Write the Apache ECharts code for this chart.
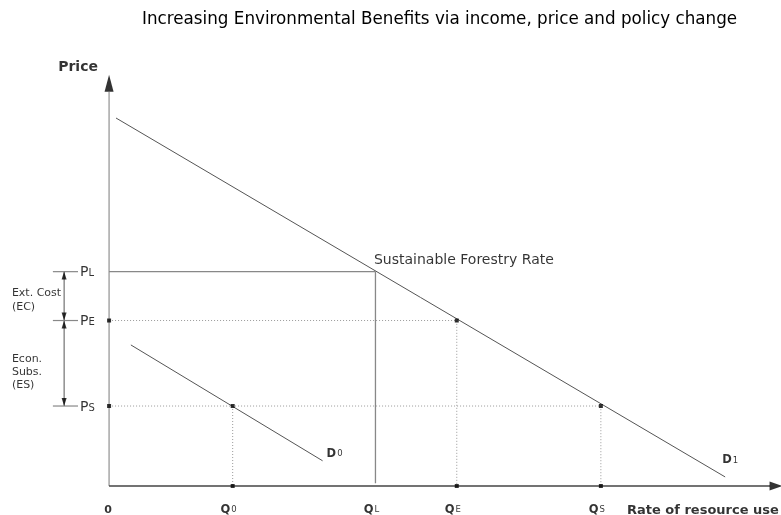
<!DOCTYPE html>
<html><head><meta charset="utf-8">
<script src="https://cdn.jsdelivr.net/npm/echarts@6/dist/echarts.min.js"></script>
<style>html,body{margin:0;padding:0;background:#fff}#c{width:781px;height:515px}</style>
</head><body><div id="c"></div>
<script>
// ---- data (axis units: quantity / price) ----
const qSubs = ['0', 'L', 'E', 'S'];
const qValues = [18.7, 40.3, 52.6, 74.4];
const pSubs = ['L', 'E', 'S'];
const pValues = [54.4, 42.0, 20.3];
const d1Line = [[1.05, 93.4], [93.2, 2.3]];
const d0Line = [[3.3, 35.8], [32.3, 6.4]];
const titleText = 'Increasing Environmental Benefits via income, price and policy change';
const yName = 'Price';
const xName = 'Rate of resource use';
const sustainText = 'Sustainable Forestry Rate';
const ecText = ['Ext. Cost', '(EC)'];
const esText = ['Econ.', 'Subs.', '(ES)'];

const [Q0, QL, QE, QS] = qValues;
const [PL, PE, PS] = pValues;

// ---- layout (axis units) ----
const X_MIN = -16.5, X_MAX = 101.65, Y_MIN = -7.36, Y_MAX = 123.35;
const AX_END_X = 100, AX_END_Y = 100;
const TICK_L = -8.5, TICK_R = -4.7, DIM_X = -6.8, LEFT_TXT = -14.7;
const LBL_Y = -6.1;
const HEAD = 1.0;   // half length of the small dimension arrowheads (price units)
const FONT = 'DejaVu Sans';

const base = {type: 'line', showSymbol: false, symbol: 'none', silent: true, animation: false, clip: false};
function poly(data, color, width, type) {
  return Object.assign({}, base, {data, lineStyle: {color, width, type: type || 'solid'}, z: 2});
}
function head(value, rot, size) {
  return {value, symbolRotate: rot, symbolSize: size};
}
const RICH = {
  pm: {fontFamily: FONT, fontSize: 14, color: '#000', verticalAlign: 'bottom', lineHeight: 16},
  ps: {fontFamily: FONT, fontSize: 10, color: '#000', verticalAlign: 'bottom', lineHeight: 14, padding: [0, 0, 1, 0]},
  qm: {fontFamily: FONT, fontSize: 11.5, fontWeight: 'bold', color: '#000', verticalAlign: 'bottom', lineHeight: 14},
  qs: {fontFamily: FONT, fontSize: 8.5, color: '#000', verticalAlign: 'bottom', lineHeight: 12, padding: [0, 0, 1, 1]}
};
function txt(value, formatter, o) {
  return {value, symbolSize: 0, label: Object.assign({
    show: true, formatter, position: 'right', distance: 0, color: '#000',
    fontFamily: FONT, fontSize: 11, rich: RICH}, o || {})};
}
const texts = [
  txt([-7.7, 106.3], yName, {fontSize: 14, fontWeight: 'bold'}),
  txt([78.35, -6.35], xName, {fontSize: 13, fontWeight: 'bold'}),
  txt([QL, PL], sustainText, {fontSize: 14, offset: [-1.5, -11.5]}),
  txt([0, LBL_Y], '0', {position: 'inside', fontWeight: 'bold', offset: [-1, 0]}),
  txt(d0Line[1], '{qm|D}{qs|0}', {offset: [4, -8]}),
  txt(d1Line[1], '{qm|D}{qs|1}', {offset: [-3, -18]}),
  txt([LEFT_TXT, (PL + PE) / 2], ecText.join('\n'), {lineHeight: 14, offset: [0, 4]}),
  txt([LEFT_TXT, (PE + PS) / 2], esText.join('\n'), {lineHeight: 13, offset: [0, 9]})
];
pValues.forEach((p, i) => texts.push(txt([TICK_R, p], '{pm|P}{ps|' + pSubs[i] + '}', {distance: 2})));
qValues.forEach((q, i) => texts.push(txt([q, LBL_Y], '{qm|Q}{qs|' + qSubs[i] + '}', {position: 'inside', offset: [-4, -1.5]})));

const points = [[0, PE], [0, PS], [QE, PE], [QS, PS], [Q0, PS], [Q0, 0], [QE, 0], [QS, 0]];

const heads = [
  head([0, 102.2], 0, [9, 17]),
  head([100.9, 0], -90, [9, 13]),
  head([DIM_X, PL - HEAD], 0, [5, 8]),
  head([DIM_X, PE + HEAD], 180, [5, 8]),
  head([DIM_X, PE - HEAD], 0, [5, 8]),
  head([DIM_X, PS + HEAD], 180, [5, 8])
];

const series = [
  poly([[0, 0], [0, AX_END_Y]], '#999', 1.3),
  poly([[0, 0], [AX_END_X, 0]], '#444', 1.3),
  poly(d1Line, '#555', 1),
  poly(d0Line, '#555', 1),
  poly([[0, PL], [QL, PL], [QL, 0.7]], '#888', 1.3),
  poly([[0, PE], [QE, PE], [QE, 0]], '#999', 1, [1, 2]),
  poly([[0, PS], [QS, PS], [QS, 0]], '#999', 1, [1, 2]),
  poly([[Q0, PS], [Q0, 0]], '#999', 1, [1, 2]),
  poly([[DIM_X, PL], [DIM_X, PS]], '#555', 1)
];
pValues.forEach(p => series.push(poly([[TICK_L, p], [TICK_R, p]], '#888', 1.2)));
series.push({type: 'scatter', data: heads, symbol: 'triangle', itemStyle: {color: '#000'}, silent: true, animation: false, clip: false, z: 4});
series.push({type: 'scatter', data: points, symbol: 'rect', symbolSize: 4, itemStyle: {color: '#000'}, silent: true, animation: false, clip: false, z: 4});
series.push({type: 'scatter', data: texts, symbolSize: 0, silent: true, animation: false, clip: false, z: 5});

const chart = echarts.init(document.getElementById('c'), null, {renderer: 'canvas'});
chart.setOption({
  backgroundColor: '#fff',
  animation: false,
  title: {text: titleText, left: 142, top: 11, padding: 0,
    textStyle: {fontFamily: FONT, fontSize: 16.75, fontWeight: 'normal', color: '#000'}},
  grid: {left: 0, right: 0, top: 0, bottom: 0},
  xAxis: {type: 'value', min: X_MIN, max: X_MAX, show: false},
  yAxis: {type: 'value', min: Y_MIN, max: Y_MAX, show: false},
  series
});
</script></body></html>
